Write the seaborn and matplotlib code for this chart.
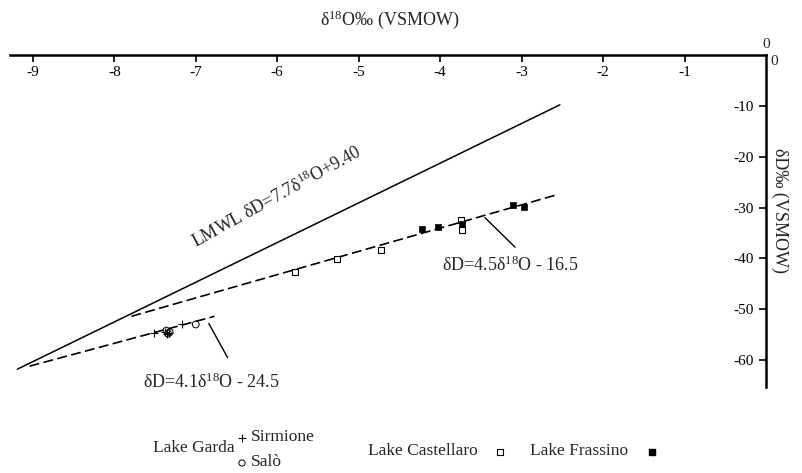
import matplotlib
matplotlib.use("Agg")
import matplotlib.pyplot as plt
import seaborn as sns

sns.set_theme(style="white")
plt.rcParams['font.family'] = ['Liberation Serif', 'DejaVu Sans']
plt.rcParams['mathtext.fontset'] = 'custom'
plt.rcParams['mathtext.rm'] = 'Liberation Serif'
plt.rcParams['mathtext.it'] = 'Liberation Serif:italic'

# %% data
sirmione_o18 = [-7.51, -7.38, -7.33, -7.35, -7.17]
sirmione_d = [-54.6, -54.4, -54.6, -54.9, -53.0]
salo_o18 = [-7.36, -7.32, -7.34, -7.00]
salo_d = [-54.2, -54.5, -54.8, -53.0]
castellaro_o18 = [-5.78, -5.27, -4.72, -3.75, -3.73]
castellaro_d = [-42.6, -40.1, -38.4, -32.4, -34.4]
frassino_o18 = [-4.22, -4.03, -3.73, -3.10, -2.97]
frassino_d = [-34.2, -33.9, -33.2, -29.6, -29.9]

# line end points
lmwl_o18 = [-9.19, -2.53]
lmwl_d = [-61.8, -9.8]
fit_all_o18 = [-7.79, -2.57]
fit_all_d = [-51.4, -27.5]
fit_garda_o18 = [-9.04, -6.77]
fit_garda_d = [-61.2, -51.4]

x_ticks = [-9, -8, -7, -6, -5, -4, -3, -2, -1]
y_ticks = [-60, -50, -40, -30, -20, -10]

# %% figure
fig = plt.figure(figsize=(8.03, 4.73), dpi=100)
ax = fig.add_axes([10 / 803, 1 - 387 / 473, 756 / 803, 332 / 473])
ax.set_facecolor('white')

sns.lineplot(x=lmwl_o18, y=lmwl_d, ax=ax, color='black', lw=1.1)
sns.lineplot(x=fit_all_o18, y=fit_all_d, ax=ax, color='black', lw=1.2,
             linestyle=(0, (6, 2.6)))
sns.lineplot(x=fit_garda_o18, y=fit_garda_d, ax=ax, color='black', lw=1.2,
             linestyle=(0, (6, 2.6)))

sns.scatterplot(x=castellaro_o18, y=castellaro_d, ax=ax, marker='s', s=22,
                facecolor='white', edgecolor='black', linewidth=0.8, zorder=3)
sns.scatterplot(x=frassino_o18, y=frassino_d, ax=ax, marker='s', s=24,
                color='black', edgecolor='black', linewidth=0.5, zorder=3)
sns.scatterplot(x=salo_o18, y=salo_d, ax=ax, marker='o', s=24,
                facecolor='none', edgecolor='black', linewidth=0.7, zorder=3)
sns.scatterplot(x=sirmione_o18, y=sirmione_d, ax=ax, marker='+', s=40,
                color='black', linewidth=0.8, zorder=3)

# leader lines for the equations
ax.plot([-3.45, -3.08], [-32.0, -37.8], color='black', lw=1.0)
ax.plot([-6.84, -6.61], [-52.8, -59.5], color='black', lw=1.0)

FS = 13
ax.text(-3.14, -41.3, 'δD=4.5δ$^{18}$O - 16.5', ha='center', va='center', fontsize=FS)
ax.text(-6.81, -64.4, 'δD=4.1δ$^{18}$O - 24.5', ha='center', va='center', fontsize=FS)
ax.text(-6.0, -28.0, 'LMWL δD=7.7δ$^{18}$O+9.40', ha='center', va='center',
        fontsize=FS, rotation=29, rotation_mode='anchor')

# %% axes styling
ax.set_xlim(-9.28, 0)
ax.set_ylim(-65.3, 0)
for s in ['left', 'bottom']:
    ax.spines[s].set_visible(False)
for s in ['top', 'right']:
    ax.spines[s].set_visible(True)
    ax.spines[s].set_color('black')
    ax.spines[s].set_linewidth(1.8)

ax.xaxis.tick_top()
ax.set_xticks(x_ticks)
ax.set_xticklabels([str(v) for v in x_ticks])
ax.tick_params(axis='x', direction='in', length=5, width=1.2, pad=-17, labelsize=11,
               colors='black', top=True, bottom=False)

ax.yaxis.tick_right()
ax.set_yticks(y_ticks)
ax.set_yticklabels([str(v) for v in y_ticks])
ax.tick_params(axis='y', direction='in', length=5, width=1.2, pad=-9, labelsize=11,
               colors='black', right=True, left=False)
for t in ax.get_yticklabels():
    t.set_horizontalalignment('right')

ax.text(1.0, 1.012, '0', transform=ax.transAxes, ha='center', va='bottom', fontsize=11)
ax.text(1.006, 1.0, '0', transform=ax.transAxes, ha='left', va='top', fontsize=11)

ax.set_xlabel('δ$^{18}$O‰ (VSMOW)', fontsize=13)
ax.xaxis.set_label_position('top')
ax.xaxis.set_label_coords((390 - 10) / 756, (387 - 25) / 332)
ax.set_ylabel('δD‰ (VSMOW)', fontsize=13, rotation=-90, va='center')
ax.yaxis.set_label_position('right')
ax.yaxis.set_label_coords((788 - 10) / 756, (387 - 210) / 332)
ax.grid(False)

# %% legend drawn by hand
def fx(px):
    return px / 803

def fy(py):
    return 1 - py / 473

LFS = 12.5
fig.text(fx(194), fy(448), 'Lake Garda', ha='center', va='center', fontsize=LFS)
fig.text(fx(251), fy(437), 'Sirmione', ha='left', va='center', fontsize=LFS)
fig.text(fx(251), fy(462), 'Salò', ha='left', va='center', fontsize=LFS)
fig.text(fx(368), fy(451), 'Lake Castellaro', ha='left', va='center', fontsize=LFS)
fig.text(fx(530), fy(451), 'Lake Frassino', ha='left', va='center', fontsize=LFS)
ax.scatter([fx(242)], [fy(438)], marker='+', s=36, color='black', linewidths=0.8,
           transform=fig.transFigure, clip_on=False)
ax.scatter([fx(242)], [fy(463)], marker='o', s=20, facecolor='none', edgecolor='black',
           linewidths=0.7, transform=fig.transFigure, clip_on=False)
ax.scatter([fx(500)], [fy(452)], marker='s', s=20, facecolor='white', edgecolor='black',
           linewidths=0.8, transform=fig.transFigure, clip_on=False)
ax.scatter([fx(652)], [fy(452)], marker='s', s=22, color='black',
           transform=fig.transFigure, clip_on=False)

fig.savefig('out.png', dpi=100, facecolor='white')
